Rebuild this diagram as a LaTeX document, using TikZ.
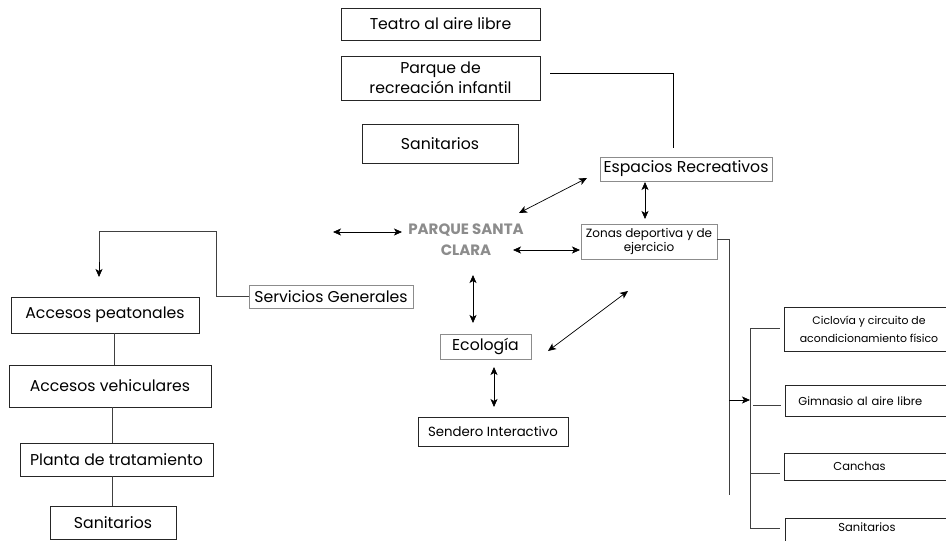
\documentclass[tikz,border=0pt]{standalone}
\usepackage{fontspec}
\setmainfont{Poppins}
\usetikzlibrary{arrows.meta}
\begin{document}
\begin{tikzpicture}[x=1pt,y=-1pt,
  box/.style={draw=black!85, line width=0.8pt, inner sep=0pt, align=center, font=\fontsize{15.7}{20}\selectfont},
  gbox/.style={box, draw=black!45},
  rbox/.style={draw=black!85, line width=0.8pt, anchor=north west, inner ysep=0pt, align=left, text width=150pt, font=\fontsize{11.5}{14}\selectfont},
  ln/.style={draw=black!75, line width=0.9pt},
  arrtip/.tip={Stealth[length=8pt,width=7pt,inset=2pt]},
  dbl/.style={arrtip-arrtip, line width=0.7pt, black},
  title/.style={font=\bfseries\fontsize{15}{21}\selectfont, text=black!45, align=center, inner sep=0pt}]
\useasboundingbox (0,0) rectangle (946,541);
% top-left boxes
\node[box, minimum width=199pt, minimum height=32pt] (tea) at (440.5,24) {Teatro al aire libre};
\node[box, minimum width=199pt, minimum height=44pt] (par) at (440.5,78) {Parque de\\recreación infantil};
\node[box, minimum width=156pt, minimum height=39pt] (san1) at (440,143.5) {Sanitarios};
\node[gbox, minimum width=172pt, minimum height=24pt] (esp) at (686,169) {Espacios Recreativos};
\node[gbox, minimum width=136pt, minimum height=35pt, font=\fontsize{12}{14}\selectfont] (zon) at (649,241.5) {Zonas deportiva y de\\ejercicio};
\node[title] (psc) at (466,240) {PARQUE SANTA\\CLARA};
\node[gbox, minimum width=164pt, minimum height=23pt] (ser) at (331,296.5) {Servicios Generales};
\node[gbox, minimum width=91pt, minimum height=25pt] (eco) at (485.5,346.5) {Ecología};
\node[box, minimum width=150pt, minimum height=29pt, font=\fontsize{13.3}{16}\selectfont] (sen) at (493,431.5) {Sendero Interactivo};
% left column
\node[box, minimum width=188pt, minimum height=36pt] (ap) at (105,315) {Accesos peatonales};
\node[box, minimum width=202pt, minimum height=42pt] (av) at (110,386) {Accesos vehiculares};
\node[box, minimum width=193pt, minimum height=33pt] (pt) at (116.5,459.5) {Planta de tratamiento};
\node[box, minimum width=126pt, minimum height=33pt] (san2) at (113,522.5) {Sanitarios};
% right column
\node[box, minimum width=170pt, minimum height=44pt, font=\fontsize{10.9}{18}\selectfont] (cic) at (869,329) {Ciclovía y circuito de\\acondicionamiento físico};
\node[rbox, inner xsep=13pt, text height=20pt, text depth=11pt] (gim) at (785,385) {Gimnasio al aire libre};
\node[rbox, inner xsep=49pt, text height=17pt, text depth=10pt] (can) at (784,453) {Canchas};
\node[rbox, inner xsep=53pt, text height=13pt, text depth=17pt] (san3) at (785,518) {Sanitarios};
% coordinates
\coordinate (pa1) at (550,73);
\coordinate (pa2) at (673,148);
\coordinate (e1) at (645,182);
\coordinate (e2) at (645,219);
\coordinate (d1) at (519,213);
\coordinate (d2) at (587,178);
\coordinate (l1) at (333,232);
\coordinate (l2) at (402,232);
\coordinate (r1) at (513,250);
\coordinate (r2) at (580,250);
\coordinate (v1) at (473,275);
\coordinate (v2) at (473,323);
\coordinate (g1) at (548,351);
\coordinate (g2) at (628,291);
\coordinate (s1) at (494,367);
\coordinate (s2) at (494,407);
\coordinate (sg1) at (216,231);
\coordinate (sg2) at (99,277);
\coordinate (sg3) at (99,262);
\coordinate (z1) at (729,239);
\coordinate (z2) at (729,495);
\coordinate (b1) at (750,400);
\coordinate (bt) at (750,328);
\coordinate (bb) at (750,528);
\coordinate (t1) at (753,405);
\coordinate (t2) at (750,473);
% connectors
\draw[ln, draw=black] (pa1) -| (pa2);
\draw[dbl] (e1) -- (e2);
\draw[dbl] (d1) -- (d2);
\draw[dbl] (l1) -- (l2);
\draw[dbl] (r1) -- (r2);
\draw[dbl] (v1) -- (v2);
\draw[dbl] (g1) -- (g2);
\draw[dbl] (s1) -- (s2);
\draw[ln] (ser.west) -| (sg1) -| (sg3);
\draw[line width=0.7pt, -arrtip] (sg3) -- (sg2);
\draw[ln] ([xshift=9pt]ap.south) -- ([xshift=9pt]ap.south |- av.north);
\draw[ln] ([xshift=2pt]av.south) -- ([xshift=2pt]av.south |- pt.north);
\draw[ln] ([xshift=-4.5pt]pt.south) -- ([xshift=-4.5pt]pt.south |- san2.north);
\draw[ln] (zon.east |- z1) -- (z1) -- (z2);
\draw[line width=0.7pt, -arrtip] (z1 |- b1) -- (b1);
\draw[ln] ([xshift=-4pt]cic.west |- bt) -- (bt) -- (bb) -- ([xshift=-5pt]san3.west |- bb);
\draw[ln] (t1) -- ([xshift=-4pt]gim.west |- t1);
\draw[ln] (t2) -- ([xshift=-4pt]can.west |- t2);
\end{tikzpicture}
\end{document}
